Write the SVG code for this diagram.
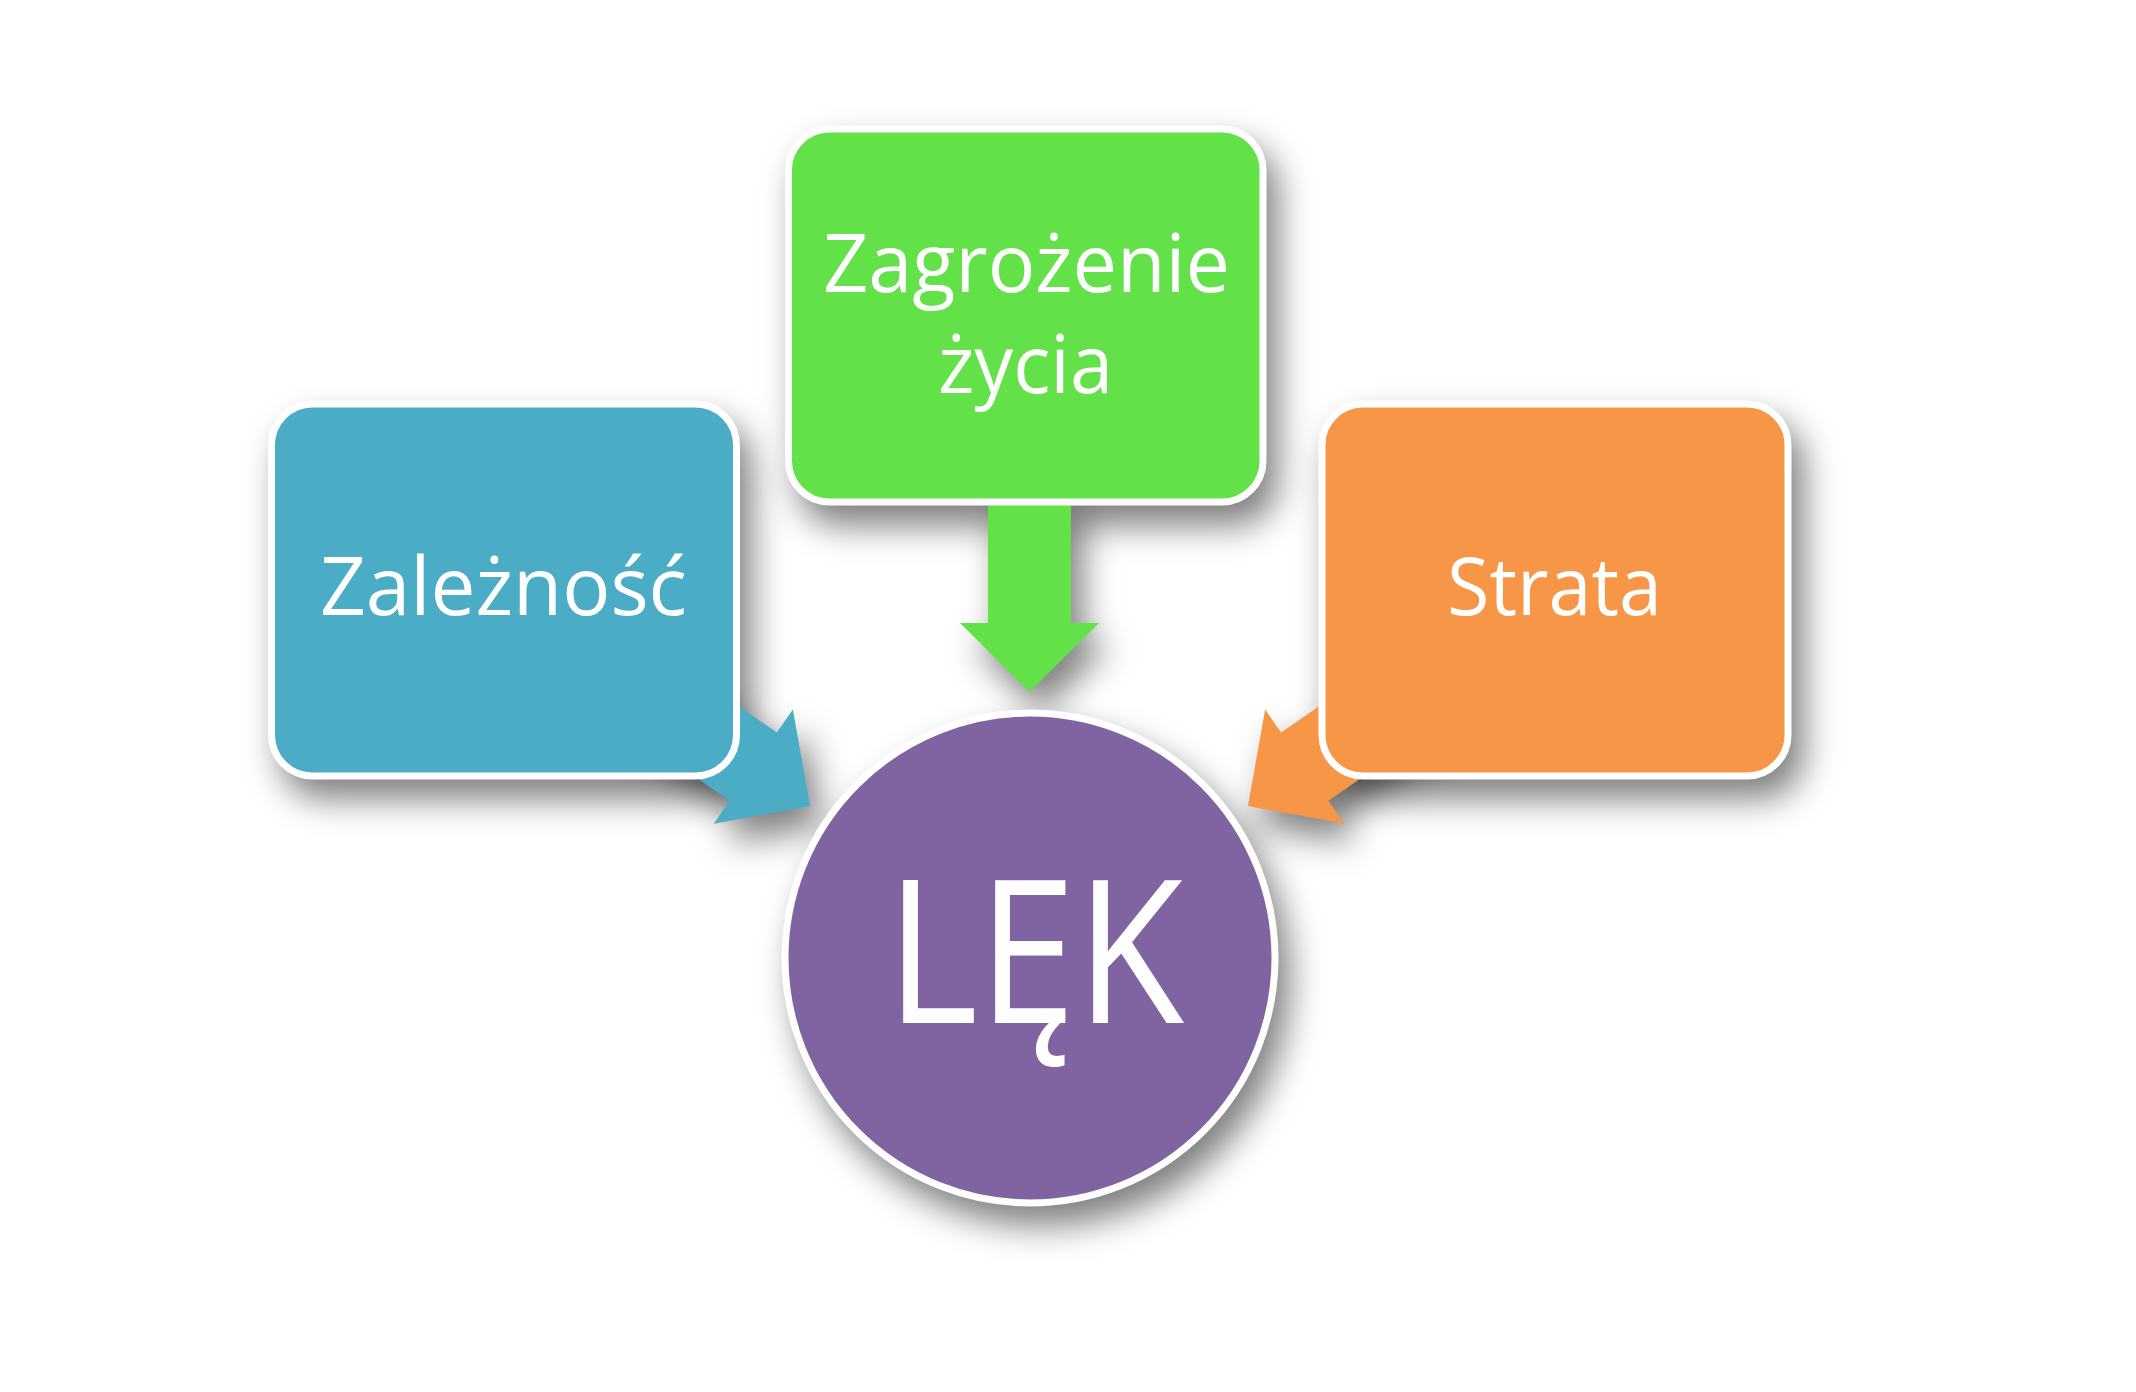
<svg xmlns="http://www.w3.org/2000/svg" width="2136" height="1392" viewBox="0 0 2136 1392">
<defs>
<style>
.lbl{font-family:"Open Sans",Lato,"Liberation Sans",sans-serif;fill:#ffffff;text-anchor:middle}
.box{stroke:#ffffff;stroke-width:7}
.sh{fill:#000000;fill-opacity:0.5}
</style>
<filter id="shf" x="-30%" y="-30%" width="160%" height="160%">
<feGaussianBlur stdDeviation="17"/>
<feOffset dx="12" dy="20" result="o"/>
</filter>
<path id="arr" d="M0,0 L-69,-69.5 L-69,-41.5 L-190,-41.5 L-190,41.5 L-69,41.5 L-69,69.5 Z"/>
</defs>
<rect width="2136" height="1392" fill="#ffffff"/>
<g id="shadows" filter="url(#shf)" class="sh">
<rect x="268" y="401" width="472" height="378" rx="44"/>
<rect x="785" y="125" width="481" height="381" rx="44"/>
<rect x="1318" y="400" width="474" height="379" rx="44"/>
<circle cx="1030" cy="958" r="248"/>
<use href="#arr" transform="translate(1029.5,692) rotate(90)"/>
<use href="#arr" transform="translate(810,806) rotate(34.7)"/>
<use href="#arr" transform="translate(1248,806) rotate(145.3)"/>
</g>
<g id="connectors">
<use href="#arr" fill="#62E248" transform="translate(1029.5,692) rotate(90)"/>
<use href="#arr" fill="#4BACC6" transform="translate(810,806) rotate(34.7)"/>
<use href="#arr" fill="#F79646" transform="translate(1248,806) rotate(145.3)"/>
</g>
<g id="node-zaleznosc">
<rect class="box" x="271.5" y="404" width="465" height="372" rx="41" fill="#4BACC6"/>
<text class="lbl" x="503.5" y="615" font-size="81" textLength="367" lengthAdjust="spacingAndGlyphs">Zależność</text>
</g>
<g id="node-zagrozenie">
<rect class="box" x="788.5" y="129" width="474.5" height="373" rx="41" fill="#62E248"/>
<text class="lbl" x="1026.5" y="292" font-size="80" textLength="407" lengthAdjust="spacingAndGlyphs">Zagrożenie</text>
<text class="lbl" x="1025.5" y="393" font-size="80" textLength="175" lengthAdjust="spacingAndGlyphs">życia</text>
</g>
<g id="node-strata">
<rect class="box" x="1322" y="404" width="466" height="372" rx="41" fill="#F79646"/>
<text class="lbl" x="1554.5" y="615" font-size="81" textLength="215" lengthAdjust="spacingAndGlyphs">Strata</text>
</g>
<g id="node-lek">
<circle class="box" cx="1030" cy="958" r="245" fill="#8064A2"/>
<text class="lbl" x="1035" y="1023" font-size="200" textLength="298" lengthAdjust="spacingAndGlyphs">LĘK</text>
</g>
</svg>
